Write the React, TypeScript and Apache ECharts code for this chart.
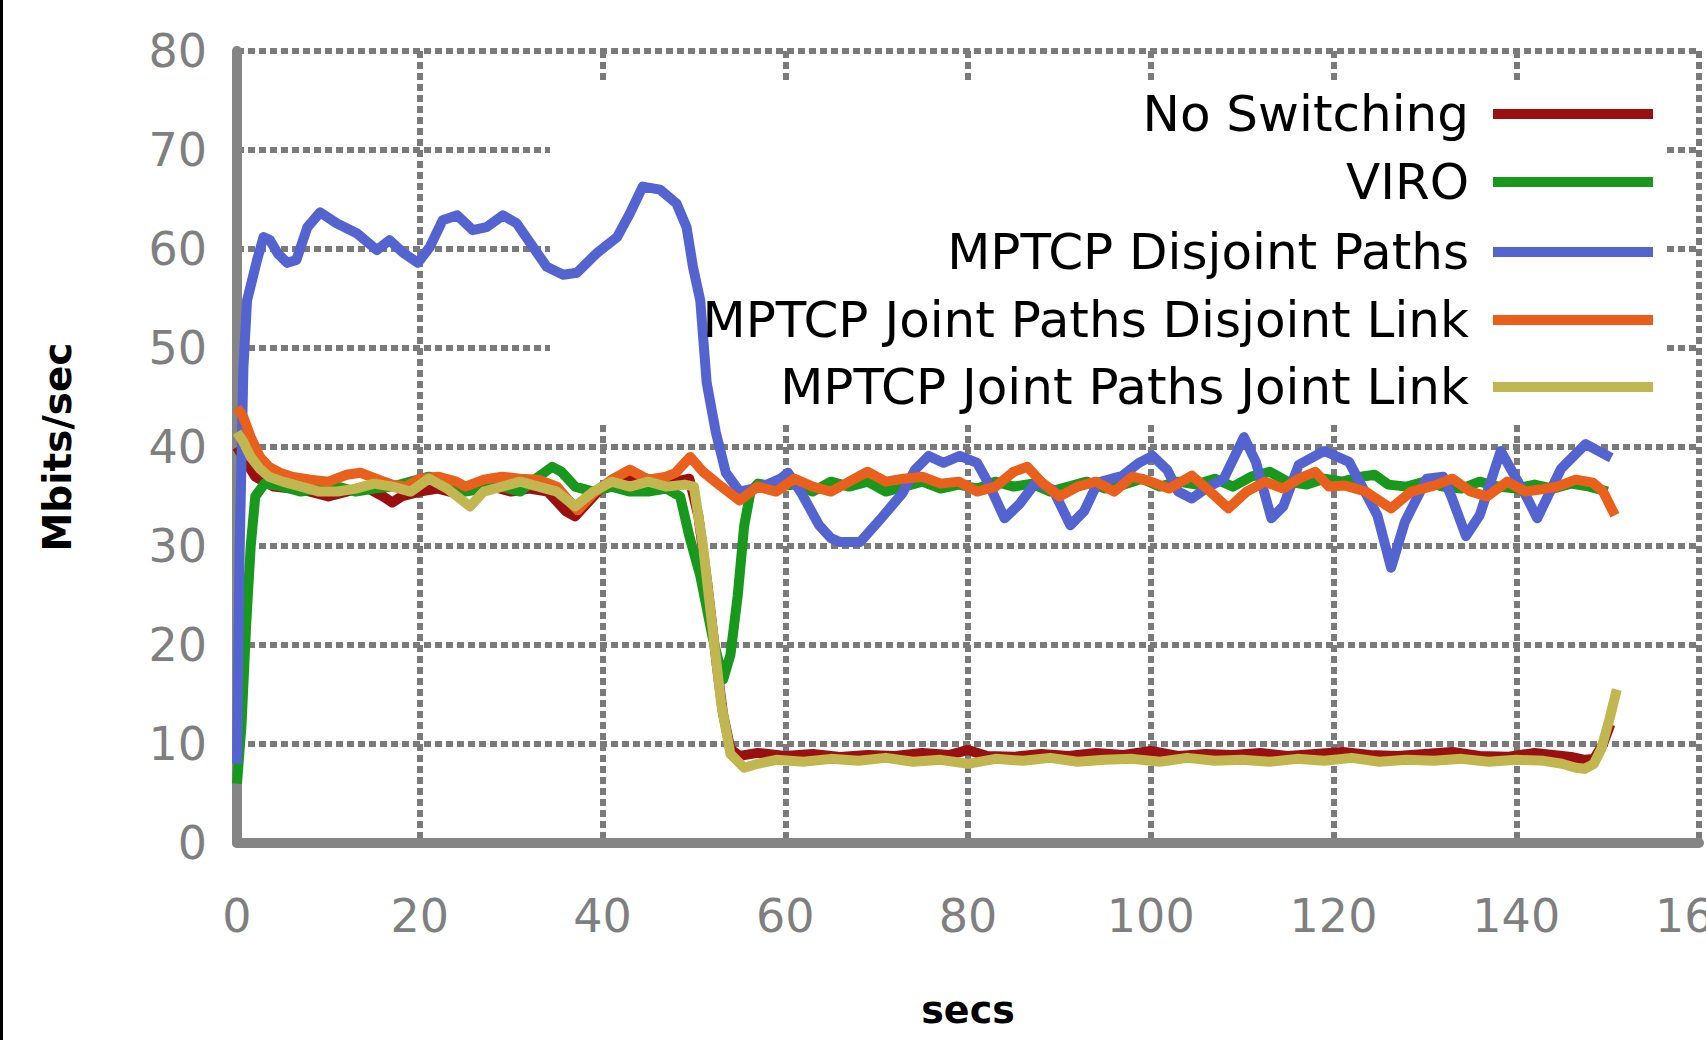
import React, { useEffect, useRef } from "react";
import * as echarts from "echarts";

// ---- data (secs, Mbits/sec) ----
const seriesNames = [
  "No Switching",
  "VIRO",
  "MPTCP Disjoint Paths",
  "MPTCP Joint Paths Disjoint Link",
  "MPTCP Joint Paths Joint Link",
];
const seriesColors = ["#9a0f0f", "#18981c", "#5363cf", "#e8601c", "#c2b650"];

const xTicks = { min: 0, max: 160, interval: 20 };
const yTicks = { min: 0, max: 80, interval: 10 };

const noSwitching: number[][] = [
  [0, 40], [1, 38.5], [2, 37], [3, 36.5], [4, 36], [6, 35.8], [8, 35.5], [10, 35], [12, 35.5],
  [14, 36], [16, 35], [17, 34.4], [18, 35], [20, 35.5], [22, 35.8], [24, 35.3], [26, 35.8],
  [28, 36], [30, 35.5], [32, 35.8], [34, 35.5], [36, 33.5], [37, 33], [38, 34], [40, 36],
  [42, 36.5], [44, 37], [46, 36.5], [48, 36.5], [49.5, 36.8], [50.5, 33], [51.5, 26],
  [52.5, 18], [53.2, 13], [54, 9.5], [55, 8.8], [57, 9.1], [60, 8.8], [63, 9.0], [66, 8.7],
  [69, 8.9], [72, 8.8], [75, 9.1], [78, 8.9], [80, 9.4], [82, 8.8], [85, 8.7], [88, 9.0],
  [91, 8.8], [94, 9.1], [97, 8.9], [100, 9.3], [103, 8.8], [106, 9.0], [109, 8.9], [112, 9.1],
  [115, 8.8], [118, 9.0], [121, 9.2], [124, 8.9], [127, 8.8], [130, 9.0], [133, 9.2],
  [136, 8.8], [139, 8.7], [142, 9.1], [144, 8.9], [146, 8.7], [147.5, 8.4], [148.5, 8.5],
  [149.5, 10], [150.3, 12],
];

const viro: number[][] = [
  [0, 6], [0.5, 12], [1, 22], [1.5, 30], [2, 35], [3, 36.3], [5, 36], [7, 35.5], [9, 35.8],
  [11, 36], [13, 35.5], [15, 35.8], [17, 36], [19, 36.5], [21, 37], [23, 36.5], [25, 35.5],
  [27, 35.8], [29, 36], [31, 35.5], [33, 37], [34.5, 38], [35.5, 37.5], [37, 36], [39, 35.5],
  [41, 36], [43, 35.5], [45, 35.5], [47, 35.8], [48.5, 35], [49.5, 31], [50.7, 27], [52, 21],
  [53.2, 16.5], [54, 19], [54.8, 25], [55.5, 32], [56.2, 35.5], [57, 36.3], [59, 36],
  [61, 36.2], [63, 35.5], [65, 36.5], [67, 36], [69, 36.5], [71, 35.5], [73, 36], [75, 36.5],
  [77, 35.8], [79, 36.2], [81, 35.8], [83, 36.5], [85, 36], [87, 36.3], [89, 35.5], [91, 36],
  [93, 36.5], [95, 35.8], [97, 36.2], [99, 36.8], [101, 36], [103, 36.5], [105, 36.2],
  [107, 36.8], [109, 36], [111, 37], [113, 37.5], [115, 36.5], [117, 36.2], [119, 36.8],
  [121, 36.5], [123, 37], [124.5, 37.2], [126, 36.2], [128, 36], [130, 36.5], [132, 36],
  [134, 35.8], [136, 36.5], [138, 36], [140, 35.8], [142, 36.2], [144, 35.8], [146, 36.3],
  [148, 36], [150, 35.5],
];

const disjointPaths: number[][] = [
  [0, 8], [0.3, 30], [0.7, 48], [1.1, 54.8], [2.2, 58.9], [2.9, 61.2], [3.6, 60.9], [4.5, 59.5],
  [5.5, 58.6], [6.5, 58.9], [7.7, 62.2], [9.1, 63.7], [10.9, 62.6], [13.1, 61.6], [15.3, 59.9],
  [16.7, 60.9], [18.2, 59.6], [19.8, 58.6], [21.1, 60.2], [22.5, 62.9], [24.1, 63.4],
  [25.8, 61.9], [27.3, 62.2], [29.1, 63.4], [30.6, 62.6], [32.1, 60.6], [33.9, 58.2],
  [35.7, 57.4], [37.2, 57.6], [39.4, 59.6], [41.6, 61.2], [43, 63.6], [44.4, 66.3], [46.3, 66],
  [48.1, 64.6], [49.2, 62.2], [49.9, 58.2], [50.7, 54.8], [51.4, 46.5], [52.4, 41.5],
  [53.5, 37.4], [55, 35.5], [56.5, 35.8], [58, 36.2], [59.5, 36.8], [60.3, 37.4], [61.8, 35.3],
  [63.7, 32.1], [65, 30.8], [66, 30.4], [68.2, 30.4], [70.5, 32.8], [72.8, 35.3], [74.2, 37.7],
  [75.7, 39.1], [77.3, 38.4], [79.1, 39.1], [81, 38.4], [82.2, 36.4], [84, 32.8], [85.6, 34.2],
  [87.4, 36.4], [89.3, 35.7], [91.2, 32.1], [92.7, 33.5], [94.2, 36.4], [96.9, 37.1],
  [98.7, 38.4], [100.2, 39.1], [101.8, 37.7], [103, 35.5], [104.5, 34.8], [106, 35.8],
  [108, 36.8], [110.2, 41], [111.5, 38.5], [113.2, 32.8], [114.5, 34], [116.2, 38.2],
  [119, 39.6], [121.7, 38.5], [124.8, 33.1], [126.3, 27.8], [127.8, 32.4], [130.2, 36.8],
  [132, 37], [132.9, 35], [134.5, 31], [136, 33.1], [138.3, 39.6], [141.1, 35], [142.3, 32.8],
  [144.9, 37.8], [147.6, 40.3], [150.4, 38.9],
];

const jointDisjointLink: number[][] = [
  [0, 44], [0.7, 43], [1.5, 41], [2.5, 39], [3.5, 38], [4.7, 37.4], [6, 37], [8, 36.7],
  [10, 36.5], [12, 37.2], [13.5, 37.4], [15.5, 36.7], [17, 36.2], [18.5, 36], [20, 36.8],
  [22, 37], [24, 36.5], [25, 36], [27, 36.7], [29, 37], [31, 36.8], [33, 36.7], [35, 36],
  [36.3, 34.6], [37.3, 33.6], [39, 35.3], [41, 36.7], [43, 37.7], [45, 36.7], [47, 37],
  [48, 37.4], [49.6, 39], [51, 37.5], [53, 36], [55, 34.6], [57, 36], [59, 35.5], [61, 36.8],
  [63, 36], [65, 35.5], [67, 36.5], [69, 37.5], [71, 36.5], [73, 36.8], [75, 37], [77, 36.3],
  [79, 36.5], [81, 35.5], [83, 36], [85, 37.5], [86.5, 38], [88, 36.5], [90, 35], [92, 36],
  [94, 36.5], [96, 35.5], [98, 37], [100, 36.5], [102, 35.8], [104.5, 37.1], [106.5, 35.5],
  [108.5, 33.8], [110.5, 35.5], [112.5, 36.5], [114.5, 35.8], [116.2, 36.8], [118, 37.5],
  [119.5, 36], [121.3, 36.1], [123.5, 35.5], [126.3, 33.8], [128.5, 35.5], [131, 36.1],
  [133, 36.8], [135, 35.5], [136.8, 35], [139, 36.5], [141, 35.5], [142.6, 35.7], [144.5, 36],
  [146.5, 36.7], [148.4, 36.4], [149.5, 35.5], [150.8, 33.1],
];

const jointJointLink: number[][] = [
  [0, 41.5], [0.7, 40.5], [1.5, 39], [2.5, 37.8], [3.5, 37], [5, 36.5], [7, 36], [9, 35.5],
  [11, 35.5], [13, 35.8], [15, 36.3], [17, 36], [19, 35.5], [21, 36.8], [23, 35.8],
  [25.5, 34], [27, 35.5], [29, 36], [31, 36.5], [33, 36], [35, 35.5], [37, 34], [39, 35.5],
  [41, 36.5], [43, 36], [45, 36.5], [47, 36], [49, 36.2], [50, 36], [51, 30], [52, 22],
  [53, 14], [54, 9], [55.5, 7.6], [57, 8], [59, 8.4], [62, 8.2], [65, 8.5], [68, 8.3],
  [71, 8.6], [74, 8.2], [77, 8.4], [80, 8.0], [83, 8.5], [86, 8.3], [89, 8.6], [92, 8.2],
  [95, 8.4], [98, 8.5], [101, 8.2], [104, 8.6], [107, 8.3], [110, 8.4], [113, 8.2], [116, 8.5],
  [119, 8.3], [122, 8.6], [125, 8.2], [128, 8.4], [131, 8.3], [134, 8.5], [137, 8.2],
  [140, 8.4], [143, 8.3], [145, 8.0], [146.5, 7.6], [147.5, 7.5], [148.5, 8], [149.3, 9.5],
  [150.2, 12.5], [151, 15.5],
];

const seriesData = [noSwitching, viro, disjointPaths, jointDisjointLink, jointJointLink];

const FONT = "DejaVu Sans";
const GRID_GRAY = "#7a7a7a";
const LEGEND_ROWS = [114, 182, 252, 320, 387];

export default function App() {
  const ref = useRef<HTMLDivElement>(null);

  useEffect(() => {
    if (!ref.current) return;
    const chart = echarts.init(ref.current, null, { renderer: "svg" });

    const legends = seriesNames.map((name, i) => ({
      data: [name],
      right: 53,
      top: LEGEND_ROWS[i] - 25,
      orient: "horizontal",
      align: "right",
      icon: "rect",
      itemWidth: 160,
      itemHeight: 10,
      padding: 0,
      itemGap: 0,
      selectedMode: false,
      textStyle: {
        fontFamily: FONT,
        fontSize: 50,
        color: "#000",
        padding: [0, 19, 0, 0],
      },
    }));

    chart.setOption({
      animation: false,
      backgroundColor: "#fff",
      grid: {
        left: 237,
        top: 51,
        width: 1462,
        height: 792,
        containLabel: false,
        outerBoundsMode: "none",
      },
      legend: legends,
      xAxis: {
        type: "value",
        min: xTicks.min,
        max: xTicks.max,
        interval: xTicks.interval,
        name: "secs",
        nameLocation: "middle",
        nameGap: 148,
        nameTextStyle: { fontFamily: FONT, fontSize: 38, fontWeight: "bold", color: "#000" },
        axisLine: { show: true, onZero: false, lineStyle: { color: "#858585", width: 10 } },
        axisTick: { show: false },
        axisLabel: { fontFamily: FONT, fontSize: 46, color: "#7f7f7f", margin: 50 },
        splitLine: { show: true, lineStyle: { color: GRID_GRAY, width: 6, type: [7, 4] } },
      },
      yAxis: {
        type: "value",
        min: yTicks.min,
        max: yTicks.max,
        interval: yTicks.interval,
        name: "Mbits/sec",
        nameLocation: "middle",
        nameGap: 160,
        nameTextStyle: { fontFamily: FONT, fontSize: 39, fontWeight: "bold", color: "#000" },
        axisLine: { show: true, onZero: false, lineStyle: { color: "#858585", width: 10 } },
        axisTick: { show: false },
        axisLabel: { fontFamily: FONT, fontSize: 46, color: "#7f7f7f", margin: 30 },
        splitLine: { show: true, lineStyle: { color: GRID_GRAY, width: 6, type: [7, 4] } },
      },
      graphic: [
        {
          type: "rect",
          z: 1,
          silent: true,
          shape: { x: 550, y: 84, width: 1115, height: 340 },
          style: { fill: "#ffffff" },
        },
        {
          type: "line",
          z: 10,
          silent: true,
          shape: { x1: 1.5, y1: 0, x2: 1.5, y2: 1040 },
          style: { stroke: "#000", lineWidth: 3 },
        },
      ],
      series: seriesNames.map((name, i) => ({
        name,
        type: "line",
        data: seriesData[i],
        showSymbol: false,
        symbol: "none",
        color: seriesColors[i],
        lineStyle: { color: seriesColors[i], width: 10, join: "round" },
        z: 2 + i * 0.01,
      })),
    });

    return () => chart.dispose();
  }, []);

  return (
    <div
      ref={ref}
      style={{ position: "fixed", left: 0, top: 0, width: 1706, height: 1040 }}
    />
  );
}
